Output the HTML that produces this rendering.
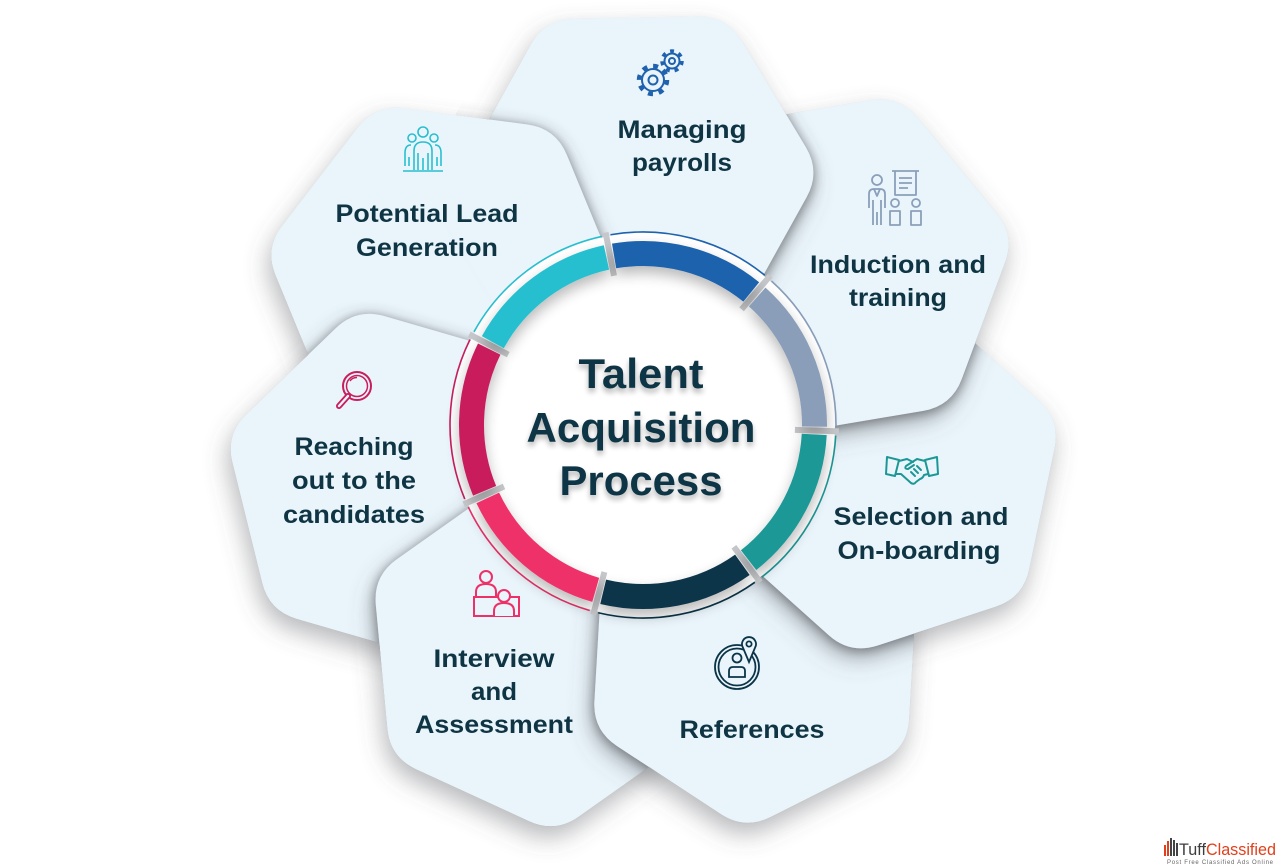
<!DOCTYPE html>
<html>
<head>
<meta charset="utf-8">
<style>
  html,body{margin:0;padding:0;background:#ffffff;}
  body{width:1280px;height:866px;overflow:hidden;}
  svg{display:block;}
  .lbl{font-family:"Liberation Sans",Arial,sans-serif;font-weight:bold;fill:#0f3544;}
</style>
</head>
<body>
<svg width="1280" height="866" viewBox="0 0 1280 866" xmlns="http://www.w3.org/2000/svg">
  <defs>
    <path id="hexg" d="M -62.1,-157.6 L 62.1,-157.6 Q 91,-157.6 105.4,-132.6 L 167.6,-25 Q 182,0 167.6,25 L 105.4,132.6 Q 91,157.6 62.1,157.6 L -62.1,157.6 Q -91,157.6 -105.4,132.6 L -167.6,25 Q -182,0 -167.6,-25 L -105.4,-132.6 Q -91,-157.6 -62.1,-157.6 Z"/>
    <filter id="tight" x="-25%" y="-25%" width="150%" height="150%">
      <feGaussianBlur in="SourceAlpha" stdDeviation="6" result="b1"/>
      <feOffset in="b1" dx="0" dy="2" result="o1"/>
      <feFlood flood-color="#56595f" flood-opacity="0.75"/>
      <feComposite in2="o1" operator="in" result="s1"/>
      <feMerge><feMergeNode in="s1"/><feMergeNode in="SourceGraphic"/></feMerge>
    </filter>
    <filter id="wide" x="-30%" y="-30%" width="160%" height="160%">
      <feGaussianBlur in="SourceAlpha" stdDeviation="12" result="b2"/>
      <feOffset in="b2" dx="-3" dy="11" result="o2"/>
      <feFlood flood-color="#56595f" flood-opacity="0.42"/>
      <feComposite in2="o2" operator="in"/>
    </filter>
    <filter id="bs" x="-20%" y="-20%" width="140%" height="140%">
      <feGaussianBlur in="SourceAlpha" stdDeviation="7"/>
      <feOffset dy="7"/>
      <feComponentTransfer><feFuncA type="linear" slope="0.28"/></feComponentTransfer>
      <feMerge><feMergeNode/><feMergeNode in="SourceGraphic"/></feMerge>
    </filter>
    <filter id="ts" x="-20%" y="-30%" width="140%" height="160%">
      <feGaussianBlur in="SourceAlpha" stdDeviation="3"/>
      <feOffset dy="4"/>
      <feComponentTransfer><feFuncA type="linear" slope="0.3"/></feComponentTransfer>
      <feMerge><feMergeNode/><feMergeNode in="SourceGraphic"/></feMerge>
    </filter>
    <clipPath id="all">
      <use href="#hexg" transform="translate(643,425) rotate(-1) translate(0,-250)"/>
      <use href="#hexg" transform="translate(643,425) rotate(50.43) translate(0,-250)"/>
      <use href="#hexg" transform="translate(643,425) rotate(101.86) translate(0,-250)"/>
      <use href="#hexg" transform="translate(643,425) rotate(153.29) translate(0,-250)"/>
      <use href="#hexg" transform="translate(643,425) rotate(204.71) translate(0,-250)"/>
      <use href="#hexg" transform="translate(643,425) rotate(256.14) translate(0,-250)"/>
      <use href="#hexg" transform="translate(643,425) rotate(307.57) translate(0,-250)"/>
    </clipPath>
    <mask id="m0" maskUnits="userSpaceOnUse" x="0" y="0" width="1280" height="866">
      <use href="#hexg" fill="#ffffff" stroke="#ffffff" stroke-width="64" stroke-linejoin="round" transform="translate(643,425) rotate(-1) translate(0,-250)"/>
    </mask>
  </defs>

  <rect width="1280" height="866" fill="#ffffff"/>

  <!-- petals -->
  <g filter="url(#wide)"><use href="#hexg" fill="#eaf5fb" transform="translate(643,425) rotate(307.57) translate(0,-250)"/></g>
  <g clip-path="url(#all)"><g filter="url(#tight)"><use href="#hexg" fill="#eaf5fb" transform="translate(643,425) rotate(307.57) translate(0,-250)"/></g></g>

  <g filter="url(#wide)"><use href="#hexg" fill="#eaf5fb" transform="translate(643,425) rotate(256.14) translate(0,-250)"/></g>
  <g clip-path="url(#all)"><g filter="url(#tight)"><use href="#hexg" fill="#eaf5fb" transform="translate(643,425) rotate(256.14) translate(0,-250)"/></g></g>

  <g filter="url(#wide)"><use href="#hexg" fill="#eaf5fb" transform="translate(643,425) rotate(204.71) translate(0,-250)"/></g>
  <g clip-path="url(#all)"><g filter="url(#tight)"><use href="#hexg" fill="#eaf5fb" transform="translate(643,425) rotate(204.71) translate(0,-250)"/></g></g>

  <g filter="url(#wide)"><use href="#hexg" fill="#eaf5fb" transform="translate(643,425) rotate(153.29) translate(0,-250)"/></g>
  <g clip-path="url(#all)"><g filter="url(#tight)"><use href="#hexg" fill="#eaf5fb" transform="translate(643,425) rotate(153.29) translate(0,-250)"/></g></g>

  <g filter="url(#wide)"><use href="#hexg" fill="#eaf5fb" transform="translate(643,425) rotate(101.86) translate(0,-250)"/></g>
  <g clip-path="url(#all)"><g filter="url(#tight)"><use href="#hexg" fill="#eaf5fb" transform="translate(643,425) rotate(101.86) translate(0,-250)"/></g></g>

  <g filter="url(#wide)"><use href="#hexg" fill="#eaf5fb" transform="translate(643,425) rotate(50.43) translate(0,-250)"/></g>
  <g clip-path="url(#all)"><g filter="url(#tight)"><use href="#hexg" fill="#eaf5fb" transform="translate(643,425) rotate(50.43) translate(0,-250)"/></g></g>

  <g filter="url(#wide)"><use href="#hexg" fill="#eaf5fb" transform="translate(643,425) rotate(-1) translate(0,-250)"/></g>
  <g clip-path="url(#all)"><g filter="url(#tight)"><use href="#hexg" fill="#eaf5fb" transform="translate(643,425) rotate(-1) translate(0,-250)"/></g></g>

  <!-- redraw petal 6 over petal 0 (and its shadow) -->
  <g mask="url(#m0)">
    <g filter="url(#wide)"><use href="#hexg" fill="#eaf5fb" transform="translate(643,425) rotate(307.57) translate(0,-250)"/></g>
    <g clip-path="url(#all)"><g filter="url(#tight)"><use href="#hexg" fill="#eaf5fb" transform="translate(643,425) rotate(307.57) translate(0,-250)"/></g></g>
  </g>

  <!-- center circle -->
  <circle cx="643" cy="425" r="192" fill="#ffffff"/>
  <g fill="none" stroke-width="1.6">
    <circle cx="643" cy="425" r="193" stroke="#1f62ad" stroke-dasharray="164.4 1048.3" transform="rotate(-99.7 643 425)"/>
    <circle cx="643" cy="425" r="193" stroke="#8a9eb9" stroke-dasharray="164.4 1048.3" transform="rotate(-48.27 643 425)"/>
    <circle cx="643" cy="425" r="193" stroke="#1b9896" stroke-dasharray="164.4 1048.3" transform="rotate(3.16 643 425)"/>
    <circle cx="643" cy="425" r="193" stroke="#0b3448" stroke-dasharray="164.4 1048.3" transform="rotate(54.59 643 425)"/>
    <circle cx="643" cy="425" r="193" stroke="#ee3069" stroke-dasharray="164.4 1048.3" transform="rotate(106.01 643 425)"/>
    <circle cx="643" cy="425" r="193" stroke="#c81e5d" stroke-dasharray="164.4 1048.3" transform="rotate(157.44 643 425)"/>
    <circle cx="643" cy="425" r="193" stroke="#27bfd0" stroke-dasharray="164.4 1048.3" transform="rotate(208.87 643 425)"/>
  </g>
  <g stroke="#c6c7ca" stroke-width="6">
    <line x1="643" y1="229" x2="643" y2="273" transform="rotate(-11 643 425)"/>
    <line x1="643" y1="229" x2="643" y2="273" transform="rotate(40.43 643 425)"/>
    <line x1="643" y1="229" x2="643" y2="273" transform="rotate(91.86 643 425)"/>
    <line x1="643" y1="229" x2="643" y2="273" transform="rotate(143.29 643 425)"/>
    <line x1="643" y1="229" x2="643" y2="273" transform="rotate(194.71 643 425)"/>
    <line x1="643" y1="229" x2="643" y2="273" transform="rotate(246.14 643 425)"/>
    <line x1="643" y1="229" x2="643" y2="273" transform="rotate(297.57 643 425)"/>
  </g>
  <g fill="none" stroke-width="25" filter="url(#bs)">
    <circle cx="643" cy="425" r="171.5" stroke="#1f62ad" stroke-dasharray="146.1 931.5" transform="rotate(-99.7 643 425)"/>
    <circle cx="643" cy="425" r="171.5" stroke="#8a9eb9" stroke-dasharray="146.1 931.5" transform="rotate(-48.27 643 425)"/>
    <circle cx="643" cy="425" r="171.5" stroke="#1b9896" stroke-dasharray="146.1 931.5" transform="rotate(3.16 643 425)"/>
    <circle cx="643" cy="425" r="171.5" stroke="#0b3448" stroke-dasharray="146.1 931.5" transform="rotate(54.59 643 425)"/>
    <circle cx="643" cy="425" r="171.5" stroke="#ee3069" stroke-dasharray="146.1 931.5" transform="rotate(106.01 643 425)"/>
    <circle cx="643" cy="425" r="171.5" stroke="#c81e5d" stroke-dasharray="146.1 931.5" transform="rotate(157.44 643 425)"/>
    <circle cx="643" cy="425" r="171.5" stroke="#27bfd0" stroke-dasharray="146.1 931.5" transform="rotate(208.87 643 425)"/>
  </g>

  <!-- title -->
  <g class="lbl" text-anchor="middle" font-size="42" filter="url(#ts)">
    <text x="641" y="388" textLength="125" lengthAdjust="spacingAndGlyphs">Talent</text>
    <text x="641" y="442" textLength="229" lengthAdjust="spacingAndGlyphs">Acquisition</text>
    <text x="641" y="495" textLength="163" lengthAdjust="spacingAndGlyphs">Process</text>
  </g>

  <!-- labels -->
  <g class="lbl" text-anchor="middle" font-size="25">
    <text x="682" y="138" textLength="129" lengthAdjust="spacingAndGlyphs">Managing</text>
    <text x="682" y="171" textLength="100" lengthAdjust="spacingAndGlyphs">payrolls</text>

    <text x="898" y="273" textLength="176" lengthAdjust="spacingAndGlyphs">Induction and</text>
    <text x="898" y="306" textLength="98" lengthAdjust="spacingAndGlyphs">training</text>

    <text x="921" y="525" textLength="175" lengthAdjust="spacingAndGlyphs">Selection and</text>
    <text x="919" y="559" textLength="163" lengthAdjust="spacingAndGlyphs">On-boarding</text>

    <text x="752" y="738" textLength="145" lengthAdjust="spacingAndGlyphs">References</text>

    <text x="494" y="667" textLength="121" lengthAdjust="spacingAndGlyphs">Interview</text>
    <text x="494" y="700" textLength="46" lengthAdjust="spacingAndGlyphs">and</text>
    <text x="494" y="733" textLength="158" lengthAdjust="spacingAndGlyphs">Assessment</text>

    <text x="354" y="455" textLength="119" lengthAdjust="spacingAndGlyphs">Reaching</text>
    <text x="354" y="489" textLength="124" lengthAdjust="spacingAndGlyphs">out to the</text>
    <text x="354" y="523" textLength="142" lengthAdjust="spacingAndGlyphs">candidates</text>

    <text x="427" y="222" textLength="183" lengthAdjust="spacingAndGlyphs">Potential Lead</text>
    <text x="427" y="256" textLength="142" lengthAdjust="spacingAndGlyphs">Generation</text>
  </g>

  <!-- icons -->
  <g fill="none" stroke="#1f62ad" stroke-width="2">
    <circle cx="653" cy="80" r="11"/>
    <circle cx="653" cy="80" r="4.5"/>
    <circle cx="653" cy="80" r="14" stroke-width="4.5" stroke-dasharray="5 6"/>
    <circle cx="672" cy="61" r="7.5"/>
    <circle cx="672" cy="61" r="3"/>
    <circle cx="672" cy="61" r="10" stroke-width="3.5" stroke-dasharray="4 4.97"/>
  </g>
  <g fill="none" stroke="#8a9fba" stroke-width="1.8" stroke-linejoin="round">
    <circle cx="877" cy="180" r="5"/>
    <path d="M869,208 V194 Q869,189 874,189 H880 Q885,189 885,194 V208"/>
    <path d="M873,200 V225 M881,200 V225 M877,212 V225"/>
    <path d="M874,189 L877,196 L880,189"/>
    <path d="M892,171 H919 M895,171 V195 H916 V171 M899,178 H912 M899,183 H912 M899,188 H908"/>
    <circle cx="895" cy="203" r="4"/>
    <circle cx="916" cy="203" r="4"/>
    <rect x="890" y="211" width="10" height="14"/>
    <rect x="911" y="211" width="10" height="14"/>
  </g>
  <g fill="none" stroke="#1b9896" stroke-width="2" stroke-linejoin="round" stroke-linecap="round">
    <path d="M887,457 L899,460 L895,476 L886,474 Z"/>
    <path d="M937,457 L925,460 L929,476 L938,474 Z"/>
    <path d="M899,461 L907,459 L913,462"/>
    <path d="M925,461 L917,459 L906,466 Q904,469 908,469 L914,465"/>
    <path d="M896,474 L901,474 L911,483 Q914,485 916,482 L920,479 Q923,478 924,475 L928,474"/>
    <path d="M911,472 L915,476 M914,469 L918,473 M917,466 L921,470"/>
  </g>
  <g fill="none" stroke="#0b3448" stroke-width="1.8">
    <circle cx="737" cy="667" r="22"/>
    <circle cx="737" cy="667" r="18.5"/>
    <circle cx="737" cy="658" r="4.5"/>
    <path d="M729,677 V671 Q729,667 733,667 H741 Q745,667 745,671 V677 Z"/>
    <path d="M749,662 L742.9,647.5 A7,7 0 1 1 755.1,647.5 Z" fill="#eaf5fb"/>
    <circle cx="749" cy="644" r="2.6"/>
  </g>
  <g fill="none" stroke="#ee3069" stroke-width="2">
    <circle cx="486" cy="577" r="6"/>
    <path d="M476,597 V592 Q476,584 486,584 Q496,584 496,592 V597"/>
    <rect x="474" y="597" width="45" height="19"/>
    <path d="M494,616 V611 Q494,603 504,603 Q514,603 514,611 V616" fill="#eaf5fb"/>
    <circle cx="504" cy="596" r="6" fill="#eaf5fb"/>
  </g>
  <g fill="none" stroke="#c81e5d">
    <circle cx="357" cy="386" r="14" stroke-width="2"/>
    <circle cx="357" cy="386" r="10.5" stroke-width="1.5"/>
    <path d="M350,381 A8,8 0 0 1 357,377.5" stroke-width="1.5"/>
    <path d="M348,396 L339,406" stroke-width="6" stroke-linecap="round"/>
    <path d="M348,396 L339,406" stroke="#eaf5fb" stroke-width="2.4" stroke-linecap="round"/>
  </g>
  <g fill="none" stroke="#27bfd0" stroke-width="1.6">
    <circle cx="423" cy="132" r="5"/>
    <circle cx="412" cy="138" r="4"/>
    <circle cx="434" cy="138" r="4"/>
    <path d="M414,170 V151 Q414,142 423,142 Q432,142 432,151 V170"/>
    <path d="M418,170 V153 M423,170 V158 M428,170 V153"/>
    <path d="M405,166 V153 Q405,145 411,145 M441,166 V153 Q441,145 435,145"/>
    <path d="M409,166 V157 M437,166 V157"/>
    <path d="M403,171 H443"/>
  </g>

  <!-- watermark -->
  <g>
    <rect x="1164" y="845" width="2" height="11" fill="#e0401c"/>
    <rect x="1167" y="841" width="2" height="15" fill="#e0401c"/>
    <rect x="1170" y="838" width="2" height="18" fill="#444444"/>
    <rect x="1173" y="840" width="2" height="16" fill="#444444"/>
    <rect x="1176" y="843" width="2" height="13" fill="#444444"/>
    <text x="1179" y="855" font-family="Liberation Sans, Arial, sans-serif" font-size="17" textLength="97" lengthAdjust="spacingAndGlyphs"><tspan fill="#3d3d3d">Tuff</tspan><tspan fill="#e0401c">Classified</tspan></text>
    <text x="1167" y="864" font-family="Liberation Sans, Arial, sans-serif" font-size="6" fill="#666666" textLength="106" lengthAdjust="spacing">Post Free Classified Ads Online</text>
  </g>
</svg>
</body>
</html>
